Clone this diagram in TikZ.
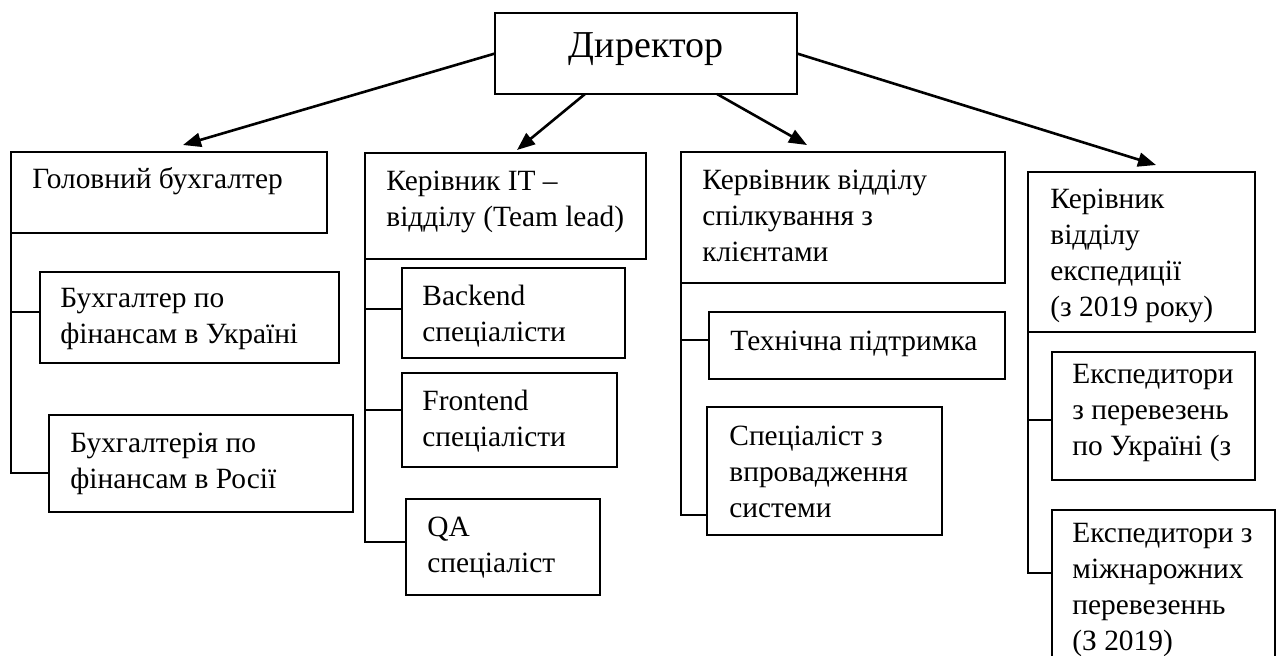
\documentclass[tikz,border=0pt]{standalone}
\usepackage{fontspec}
\setmainfont{Liberation Serif}
\usetikzlibrary{arrows.meta,calc,fit}
\newcommand\mlines[1]{\vtop{\halign{##\hfil\cr#1\crcr}}}
\begin{document}
\begin{tikzpicture}[x=0.5pt,y=-0.5pt,
  box/.style={draw, line width=0.65pt, inner sep=0pt, outer sep=0pt},
  txt/.style={inner sep=0pt, anchor=base west, font=\fontsize{14.7}{18}\selectfont},
  arr/.style={line width=1.3pt, -{Triangle[length=9pt,width=7pt]}},
  trunk/.style={line width=0.55pt}]
\clip (0,0) rectangle (1280,655);
\fill[white] (0,0) rectangle (1280,655);

% Director
\node[box, fit={(495,13)(797,94)}] (dir) {};
\node[font=\fontsize{19}{22}\selectfont, inner sep=0pt, anchor=base] (tdir) at (646,57) {Директор};

% Accounting
\node[box, fit={(11,152)(327,233)}] (gb) {};
\node[txt] (tgb) at (32,188) {Головний бухгалтер};
\node[box, fit={(40,272)(339,363)}] (gb1) {};
\node[txt] (tgb1) at (60,307) {\mlines{Бухгалтер по\cr фінансам в Україні}};
\node[box, fit={(49,415)(353,512)}] (gb2) {};
\node[txt] (tgb2) at (70,452) {\mlines{Бухгалтерія по\cr фінансам в Росії}};

% IT
\node[box, fit={(365,153)(646,259)}] (it) {};
\node[txt] (tit) at (386,190) {\mlines{Керівник IT –\cr відділу (Team lead)}};
\node[box, fit={(402,268)(625,358)}] (be) {};
\node[txt] (tbe) at (422,305) {\mlines{Backend\cr спеціалісти}};
\node[box, fit={(402,373)(617,467)}] (fe) {};
\node[txt] (tfe) at (422,410) {\mlines{Frontend\cr спеціалісти}};
\node[box, fit={(406,499)(600,595)}] (qa) {};
\node[txt] (tqa) at (427,536) {\mlines{QA\cr спеціаліст}};

% Clients
\node[box, fit={(681,152)(1005,283)}] (cl) {};
\node[txt] (tcl) at (702,189) {\mlines{Кервівник відділу\cr спілкування з\cr клієнтами}};
\node[box, fit={(709,312)(1005,379)}] (ts) {};
\node[txt] (tts) at (730,350) {Технічна підтримка};
\node[box, fit={(707,407)(942,535)}] (sp) {};
\node[txt] (tsp) at (729,445) {\mlines{Спеціаліст з\cr впровадження\cr системи}};

% Expedition
\node[box, fit={(1028,172)(1255,332)}] (ex) {};
\node[txt] (tex) at (1050,208) {\mlines{Керівник\cr відділу\cr експедиції\cr (з 2019 року)}};
\node[box, fit={(1052,352)(1255,480)}] (e1) {};
\node[txt] (te1) at (1072,383) {\mlines{Експедитори\cr з перевезень\cr по Україні (з}};
\node[box, fit={(1052,510)(1275,690)}] (e2) {};
\node[txt] (te2) at (1072,542) {\mlines{Експедитори з\cr міжнарожних\cr перевезеннь\cr (З 2019)}};

% trunks
\draw[trunk] (gb.south west) -- (gb.south west |- 0,473) -- (gb2.west |- 0,473);
\draw[trunk] (gb.south west |- 0,312) -- (gb1.west |- 0,312);
\draw[trunk] (it.south west) -- (it.south west |- 0,542) -- (qa.west |- 0,542);
\draw[trunk] (it.south west |- 0,309) -- (be.west |- 0,309);
\draw[trunk] (it.south west |- 0,410) -- (fe.west |- 0,410);
\draw[trunk] (cl.south west) -- (cl.south west |- 0,515) -- (sp.west |- 0,515);
\draw[trunk] (cl.south west |- 0,340) -- (ts.west |- 0,340);
\draw[trunk] (ex.south west) -- (ex.south west |- 0,573) -- (e2.west |- 0,573);
\draw[trunk] (ex.south west |- 0,420) -- (e1.west |- 0,420);

% arrows
\draw[arr] (dir.west) -- ($(gb.north west)+(172,-7)$);
\draw[arr] ($(dir.south west)+(90,0)$) -- ($(it.north west)+(152,-3)$);
\draw[arr] ($(dir.south west)+(222,0)$) -- ($(cl.north west)+(126,-7)$);
\draw[arr] (dir.east) -- ($(ex.north west)+(128,-7)$);
\end{tikzpicture}
\end{document}
